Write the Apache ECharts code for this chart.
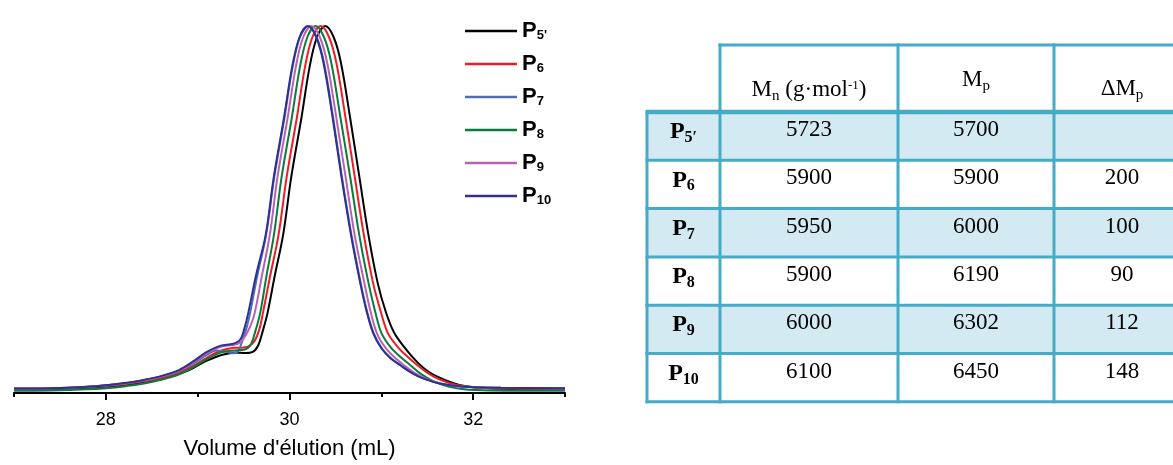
<!DOCTYPE html>
<html><head><meta charset="utf-8">
<script src="https://cdn.jsdelivr.net/npm/echarts@6/dist/echarts.min.js"></script>
<style>html,body{margin:0;padding:0;background:#fff}#c{width:1173px;height:465px}</style>
</head><body><div id="c"></div>
<script>
// ---------- chart data ----------
const seriesNames = ["P5'", 'P6', 'P7', 'P8', 'P9', 'P10'];
const seriesColors = ['#000000', '#ee1c25', '#4f6cb6', '#0b7a3d', '#b862b2', '#2e3192'];

const P5 = [[27.0,0.010],[27.4,0.011],[27.8,0.014],[28.0,0.017],[28.2,0.021],[28.4,0.028],[28.6,0.038],[28.8,0.052],[28.95,0.068],[29.1,0.088],[29.25,0.103],[29.4,0.110],[29.52,0.109],[29.6,0.112],[29.66,0.13],[29.71,0.17],[29.76,0.217],[29.84,0.32],[29.93,0.43],[30.02,0.59],[30.13,0.75],[30.22,0.89],[30.30,0.97],[30.39,1.0],[30.48,0.97],[30.56,0.90],[30.66,0.75],[30.76,0.59],[30.86,0.43],[30.96,0.30],[31.05,0.22],[31.14,0.164],[31.25,0.125],[31.35,0.095],[31.45,0.07],[31.55,0.052],[31.68,0.037],[31.85,0.022],[32.05,0.015],[32.4,0.011],[33.0,0.010]];
const P6 = [[27.0,0.011],[27.4,0.012],[27.8,0.016],[28.0,0.019],[28.2,0.024],[28.4,0.031],[28.6,0.041],[28.8,0.056],[28.95,0.074],[29.1,0.096],[29.25,0.115],[29.4,0.123],[29.5,0.124],[29.56,0.128],[29.62,0.142],[29.67,0.172],[29.71,0.217],[29.79,0.32],[29.88,0.43],[29.97,0.59],[30.08,0.75],[30.17,0.89],[30.25,0.97],[30.34,1.0],[30.43,0.97],[30.51,0.90],[30.61,0.75],[30.71,0.59],[30.81,0.43],[30.91,0.30],[30.99,0.225],[31.07,0.164],[31.17,0.128],[31.28,0.10],[31.41,0.072],[31.52,0.052],[31.65,0.035],[31.82,0.022],[32.0,0.016],[32.4,0.012],[33.0,0.011]];
const P7 = [[27.0,0.012],[27.4,0.013],[27.8,0.017],[28.0,0.021],[28.2,0.026],[28.4,0.034],[28.6,0.045],[28.8,0.060],[28.95,0.080],[29.1,0.104],[29.2,0.116],[29.3,0.113],[29.38,0.108],[29.44,0.114],[29.49,0.145],[29.53,0.175],[29.57,0.217],[29.65,0.32],[29.745,0.43],[29.835,0.59],[29.945,0.75],[30.035,0.89],[30.115,0.97],[30.205,1.0],[30.295,0.97],[30.375,0.90],[30.475,0.75],[30.57,0.59],[30.675,0.43],[30.775,0.30],[30.845,0.222],[30.915,0.164],[31.005,0.122],[31.105,0.095],[31.215,0.075],[31.335,0.055],[31.465,0.039],[31.65,0.025],[31.9,0.017],[32.3,0.014],[33.0,0.013]];
const P8 = [[27.0,0.006],[27.4,0.007],[27.8,0.010],[28.0,0.013],[28.2,0.018],[28.4,0.025],[28.6,0.036],[28.8,0.051],[28.95,0.070],[29.1,0.092],[29.25,0.110],[29.4,0.116],[29.48,0.117],[29.53,0.12],[29.58,0.132],[29.63,0.17],[29.68,0.217],[29.75,0.32],[29.83,0.43],[29.915,0.59],[30.025,0.75],[30.115,0.89],[30.195,0.97],[30.285,1.0],[30.375,0.97],[30.455,0.90],[30.555,0.75],[30.66,0.59],[30.76,0.43],[30.86,0.30],[30.93,0.225],[31.0,0.164],[31.1,0.125],[31.2,0.10],[31.32,0.075],[31.43,0.052],[31.56,0.033],[31.72,0.018],[31.9,0.010],[32.2,0.007],[33.0,0.006]];
const P9 = [[27.0,0.012],[27.4,0.013],[27.8,0.017],[28.0,0.021],[28.2,0.026],[28.4,0.034],[28.6,0.045],[28.8,0.061],[28.95,0.083],[29.1,0.108],[29.25,0.126],[29.38,0.131],[29.45,0.135],[29.51,0.152],[29.57,0.18],[29.62,0.217],[29.7,0.32],[29.785,0.43],[29.87,0.59],[29.98,0.75],[30.07,0.89],[30.15,0.97],[30.24,1.0],[30.33,0.97],[30.41,0.90],[30.51,0.75],[30.61,0.59],[30.71,0.43],[30.815,0.30],[30.88,0.225],[30.95,0.164],[31.04,0.125],[31.14,0.098],[31.25,0.075],[31.36,0.055],[31.5,0.037],[31.68,0.024],[31.9,0.017],[32.3,0.014],[33.0,0.013]];
const P10 = [[27.0,0.012],[27.4,0.013],[27.8,0.017],[28.0,0.021],[28.2,0.027],[28.4,0.035],[28.6,0.046],[28.8,0.063],[28.95,0.086],[29.1,0.112],[29.25,0.129],[29.36,0.133],[29.42,0.137],[29.47,0.148],[29.51,0.177],[29.55,0.217],[29.635,0.32],[29.74,0.43],[29.83,0.59],[29.94,0.75],[30.03,0.89],[30.11,0.97],[30.20,1.0],[30.29,0.97],[30.37,0.90],[30.47,0.75],[30.565,0.59],[30.67,0.43],[30.77,0.30],[30.84,0.222],[30.91,0.164],[31.0,0.122],[31.1,0.095],[31.21,0.075],[31.33,0.055],[31.46,0.039],[31.65,0.025],[31.9,0.017],[32.3,0.014],[33.0,0.013]];
const seriesData = [P5, P6, P7, P8, P9, P10];

const xMajorTicks = [28, 30, 32];
const xMinorTicks = [27, 29, 31, 33];
const xAxisTitle = "Volume d'élution (mL)";

// ---------- table data ----------
const tableRowSubs = ['5′', '6', '7', '8', '9', '10'];
const tableMn = ['5723', '5900', '5950', '5900', '6000', '6100'];
const tableMp = ['5700', '5900', '6000', '6190', '6302', '6450'];
const tableDMp = ['', '200', '100', '90', '112', '148'];
const tableHeaders = ['{m|M}{sb|n}{m| (g·mol}{sp|-1}{m|)}', '{m|M}{sb|p}', '{m|ΔM}{sb|p}'];

// ---------- layout / styles ----------
const SERIF = '"Liberation Serif", "DejaVu Serif", serif';
const SANS = '"Liberation Sans", Arial, sans-serif';
const BORDER = '#45abc6';
const SHADE = '#d3eaf2';
const colX = [647, 720, 898, 1054, 1190];
const headTop = 45, headBottom = 112, rowH = 48.3;

const graphics = [];
const nRows = tableRowSubs.length;
const tableBottom = headBottom + nRows * rowH;
for (let r = 0; r < nRows; r++) {
  if (r % 2 === 0) {
    graphics.push({type: 'rect', shape: {x: colX[0], y: headBottom + r * rowH, width: colX[4] - colX[0], height: rowH}, style: {fill: SHADE}, z: 1});
  }
}
function hline(x1, x2, y, w) {
  graphics.push({type: 'line', shape: {x1: x1, y1: y, x2: x2, y2: y}, style: {stroke: BORDER, lineWidth: w}, z: 5});
}
function vline(x, y1, y2, w) {
  graphics.push({type: 'line', shape: {x1: x, y1: y1, x2: x, y2: y2}, style: {stroke: BORDER, lineWidth: w}, z: 5});
}
hline(colX[1] - 1.5, colX[4], headTop, 3);
hline(colX[0] - 1.5, colX[4], headBottom, 4.5);
for (let r = 1; r <= nRows; r++) hline(colX[0] - 1.5, colX[4], headBottom + r * rowH, 3);
vline(colX[0], headBottom, tableBottom + 1.5, 3);
for (let c = 1; c < 4; c++) vline(colX[c], headTop - 1.5, tableBottom + 1.5, 3);

const richTable = {
  m: {fontSize: 23, fontFamily: SERIF, color: '#111', lineHeight: 26, verticalAlign: 'top'},
  sb: {fontSize: 15, fontFamily: SERIF, color: '#111', lineHeight: 15, verticalAlign: 'bottom', padding: [16, 0, 0, 0]},
  sp: {fontSize: 13, fontFamily: SERIF, color: '#111', lineHeight: 13, verticalAlign: 'top', padding: [1, 0, 0, 0]},
  b: {fontSize: 24, fontFamily: SERIF, fontWeight: 'bold', color: '#111', lineHeight: 26, verticalAlign: 'top'},
  bs: {fontSize: 16, fontFamily: SERIF, fontWeight: 'bold', color: '#111', lineHeight: 16, verticalAlign: 'bottom', padding: [16, 0, 0, 0]},
  n: {fontSize: 23, fontFamily: SERIF, color: '#111', lineHeight: 26}
};
const headYs = [91, 81, 90];
for (let c = 0; c < 3; c++) {
  graphics.push({type: 'text', z: 10, style: {text: tableHeaders[c], rich: richTable, x: (colX[c + 1] + colX[c + 2]) / 2, y: headYs[c], align: 'center', verticalAlign: 'middle'}});
}
const colsData = [tableMn, tableMp, tableDMp];
for (let r = 0; r < nRows; r++) {
  const top = headBottom + r * rowH;
  graphics.push({type: 'text', z: 10, style: {text: '{b|P}{bs|' + tableRowSubs[r] + '}', rich: richTable, x: (colX[0] + colX[1]) / 2, y: top + 21, align: 'center', verticalAlign: 'middle'}});
  for (let c = 0; c < 3; c++) {
    graphics.push({type: 'text', z: 10, style: {text: '{n|' + colsData[c][r] + '}', rich: richTable, x: (colX[c + 1] + colX[c + 2]) / 2, y: top + 18, align: 'center', verticalAlign: 'middle'}});
  }
}

const chart = echarts.init(document.getElementById('c'), null, {renderer: 'canvas'});
chart.setOption({
  animation: false,
  backgroundColor: '#fff',
  grid: {left: 14, right: 608, top: 26, bottom: 63.5, containLabel: false},
  xAxis: [{
    type: 'value', min: 27, max: 33, interval: 1, position: 'bottom',
    axisLine: {show: true, onZero: false, lineStyle: {color: '#000', width: 2}},
    axisTick: {show: true, customValues: xMajorTicks, length: 7, inside: false, lineStyle: {color: '#000', width: 2}},
    axisLabel: {show: true, customValues: xMajorTicks, color: '#000', fontSize: 18, fontFamily: SANS, margin: 18},
    splitLine: {show: false},
    name: xAxisTitle, nameLocation: 'middle', nameGap: 45,
    nameTextStyle: {color: '#000', fontSize: 22, fontFamily: SANS}
  }, {
    type: 'value', min: 27, max: 33, interval: 2, position: 'bottom',
    axisLine: {show: false},
    axisTick: {show: true, customValues: xMinorTicks, length: 4, lineStyle: {color: '#000', width: 2}},
    axisLabel: {show: false}, splitLine: {show: false}
  }],
  yAxis: {type: 'value', min: 0, max: 1, show: false, splitLine: {show: false}},
  legend: {
    orient: 'vertical', left: 465, top: 14, padding: 0, itemWidth: 52, itemHeight: 2.5, itemGap: 5,
    icon: 'rect', selectedMode: false,
    data: seriesNames,
    formatter: function (name) { return '{p|P}{s|' + name.slice(1) + '}'; },
    textStyle: {
      rich: {
        p: {fontSize: 22, fontWeight: 'bold', fontFamily: SANS, color: '#000', lineHeight: 22, verticalAlign: 'top'},
        s: {fontSize: 13, fontWeight: 'bold', fontFamily: SANS, color: '#000', lineHeight: 13, verticalAlign: 'bottom', padding: [15, 0, 0, 0]}
      }
    }
  },
  series: seriesNames.map(function (n, i) {
    return {
      name: n, type: 'line', data: seriesData[i], smooth: 0.35, showSymbol: false, symbol: 'none',
      lineStyle: {color: seriesColors[i], width: 2}, itemStyle: {color: seriesColors[i]}, z: 2 + i
    };
  }),
  graphic: graphics
});
</script></body></html>
